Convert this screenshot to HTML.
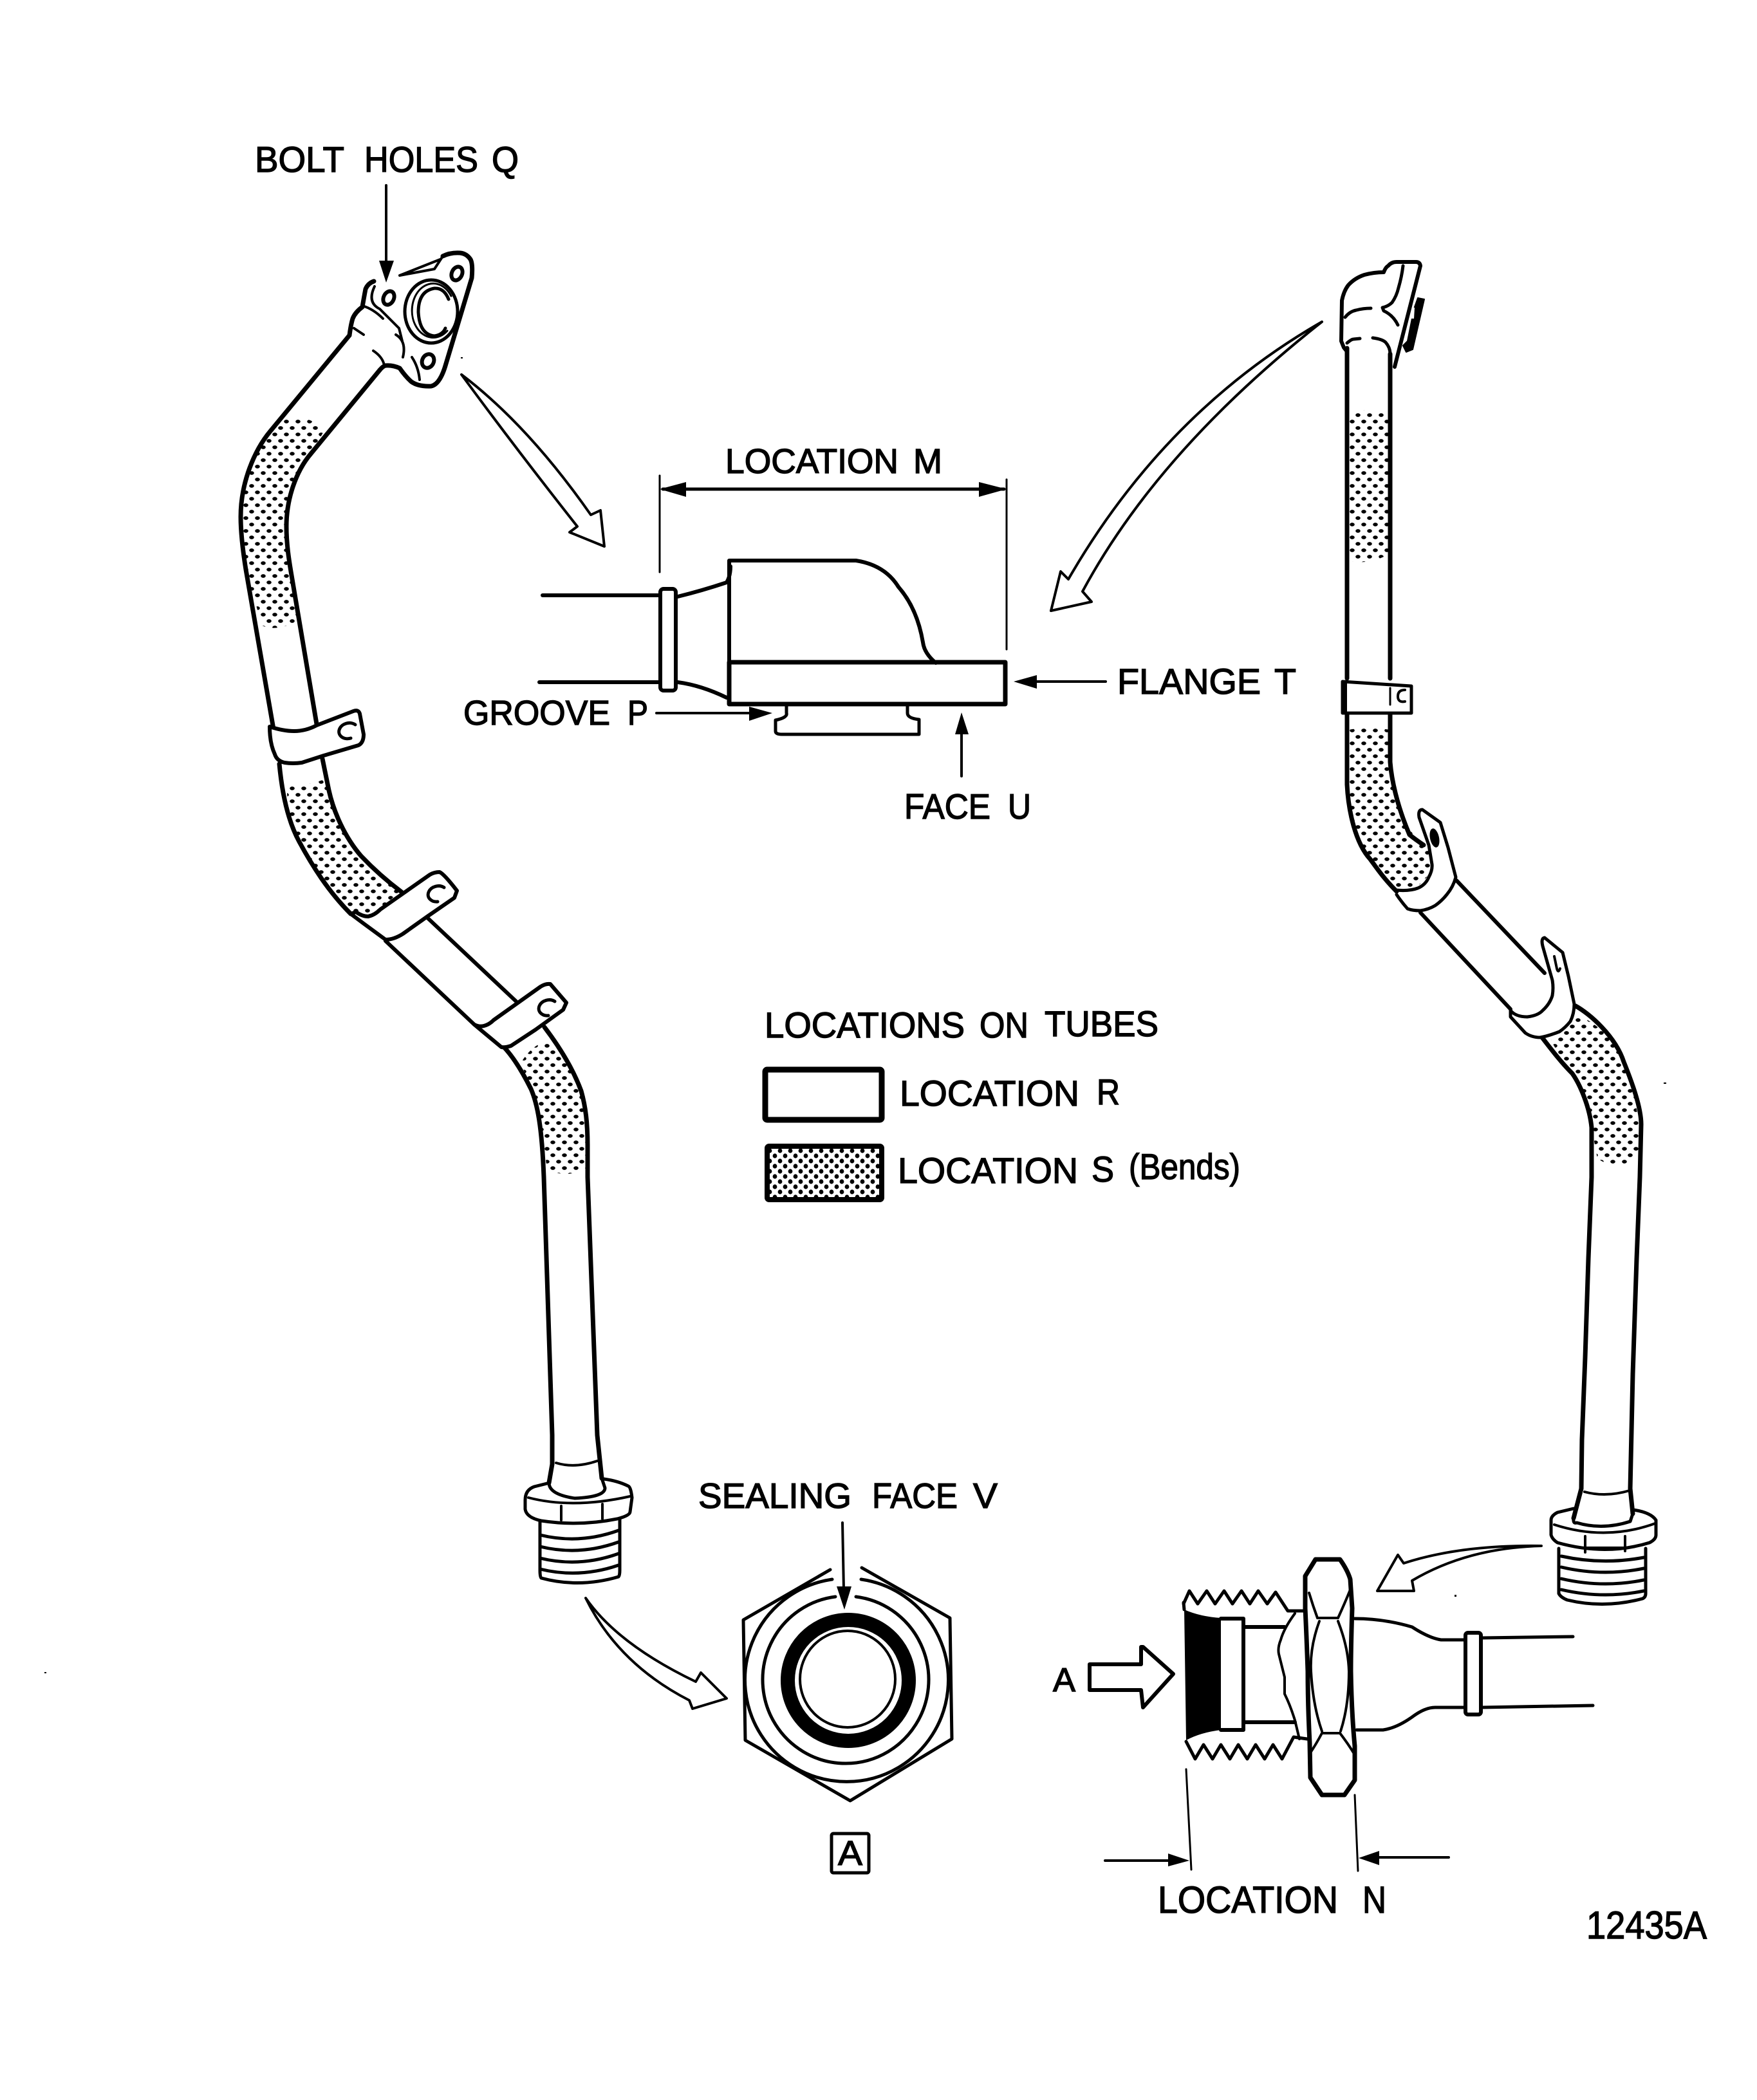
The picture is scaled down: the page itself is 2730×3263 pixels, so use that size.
<!DOCTYPE html>
<html><head><meta charset="utf-8"><title>Tube locations</title>
<style>html,body{margin:0;padding:0;background:#fff}svg{display:block}
text{font-family:"Liberation Sans",sans-serif;fill:#000;stroke:#000;stroke-width:1.4}</style></head>
<body>
<svg xmlns="http://www.w3.org/2000/svg" width="2730" height="3263" viewBox="0 0 2730 3263">
<defs>
<pattern id="d" width="18" height="20" patternUnits="userSpaceOnUse"><ellipse cx="4" cy="5" rx="3.8" ry="2.9"/><ellipse cx="13" cy="15" rx="3.8" ry="2.9"/></pattern>
<pattern id="d2" width="16" height="16" patternUnits="userSpaceOnUse"><ellipse cx="4" cy="4" rx="3.4" ry="3.6"/><ellipse cx="12" cy="12" rx="3.4" ry="3.6"/></pattern>
</defs>
<rect width="2730" height="3263" fill="#fff"/>

<!-- stipple areas -->
<g fill="url(#d)" stroke="none">
<path d="M425 663Q461 632 505 667L483 705C460 732 445 775 445 818C445 845 449 870 462 965Q430 982 407 972L382 885C378 860 374 830 374 803C374 750 395 700 425 663Z"/>
<path d="M445 1221Q475 1222 501 1212L511 1228C518 1260 535 1300 561 1330C580 1350 600 1368 622 1384L591 1413 572 1424 553 1417 545 1420C510 1385 485 1345 465 1308C452 1280 447 1250 445 1221Z"/>
<path d="M809 1652Q825 1625 848 1618L871 1634C880 1650 895 1675 903 1695C910 1720 913 1745 913 1815Q880 1832 850 1817L845 1780C842 1750 835 1715 825 1692C820 1680 815 1665 809 1652Z"/>
<path d="M2095 645Q2125 630 2158 645L2160 860Q2125 880 2093 870Z"/>
<path d="M2095 1134Q2125 1128 2160 1134C2160 1190 2165 1237 2187 1282C2197 1300 2205 1310 2225 1326L2222 1358 2200 1380 2169 1380 2160 1374 2129 1335C2106 1310 2095 1260 2093 1219Z"/>
<path d="M2410 1617Q2425 1585 2450 1576C2470 1585 2510 1610 2523 1650C2535 1680 2548 1720 2548 1798Q2510 1820 2482 1800L2473 1752C2470 1720 2455 1685 2443 1668C2430 1650 2420 1635 2410 1617Z"/>
</g>

<g fill="none" stroke="#000" stroke-width="7" stroke-linecap="round" stroke-linejoin="round">
<!-- LEFT TUBE -->
<path d="M543 521L420 670C395 700 374 750 374 803C374 830 378 860 382 885L425 1133"/>
<path d="M590 575L483 705C460 732 445 775 445 818C445 845 449 870 452 888L492 1125"/>
<path d="M434 1187C438 1230 447 1275 465 1308C485 1345 510 1385 545 1420"/>
<path d="M501 1179L511 1228C518 1260 535 1300 561 1330C580 1350 600 1368 624 1386"/>
<path stroke-width="6" d="M599 1462L737 1592M664 1426L802 1556"/>
<path d="M783 1627C800 1645 815 1672 825 1692C835 1715 842 1750 845 1829L858 2230 858 2275 853 2304"/>
<path d="M846 1596C868 1625 890 1660 903 1695C910 1720 913 1745 913 1780L913 1829 928 2230 935 2297"/>

<!-- clamps left -->
<g fill="#fff" stroke-width="6">
<path d="M419 1129Q440 1136 457 1136Q475 1136 492 1127L549 1105Q557 1102 559 1109L565 1141Q565 1154 557 1158L503 1174 469 1185Q455 1187 442 1185Q430 1182 427 1172Q419 1155 419 1129Z"/>
<path d="M553 1417Q563 1424 572 1424Q582 1422 591 1413L668 1359Q675 1355 683 1355Q690 1358 710 1384L706 1395 664 1424 626 1451Q612 1460 599 1460L565 1435 545 1420Z"/>
<path d="M737 1592Q745 1596 752 1594Q760 1592 767 1585L840 1533Q848 1528 855 1529L880 1558 875 1569 832 1600 794 1625Q785 1628 779 1627Z"/>
</g>
<path stroke-width="5" d="M552 1126A15 12 -15 1 0 545 1147M690 1379A15 12 -15 1 0 680 1401M862 1556A15 12 -15 1 0 852 1578"/>

<!-- left flange -->
<path d="M543 521Q545 505 548 495Q552 485 563 477Q565 465 568 449Q572 440 581 437"/>
<path d="M590 575Q595 569 599 568Q610 567 621 572Q630 585 639 593Q650 601 670 600Q684 597 693 565L733 432Q735 410 731 403Q725 394 715 393Q700 392 688 398"/>
<path d="M621 428L684 403M621 428L675 418 688 398" stroke-width="4"/>
<path stroke-width="4" d="M563 475Q580 480 595 495M550 510L565 520M582 445Q570 470 590 480Q600 490 620 510L625 530M615 520Q632 530 626 555M580 545Q595 555 597 568M640 555Q650 570 652 590"/>
<ellipse cx="604" cy="463" rx="8" ry="11" transform="rotate(25 604 463)" stroke-width="6"/>
<ellipse cx="710" cy="425" rx="8" ry="11" transform="rotate(25 710 425)" stroke-width="6"/>
<ellipse cx="665" cy="561" rx="9" ry="11" transform="rotate(25 665 561)" stroke-width="6"/>
<ellipse cx="670" cy="484" rx="41" ry="49" stroke-width="5"/>
<path stroke-width="3" d="M701 460A33 42 0 1 0 695 514"/>
<path stroke-width="5" d="M697 465Q690 447 675 448Q650 452 650 485Q652 520 675 522Q688 520 692 510"/>

<!-- left fitting -->
<path stroke-width="4" d="M864 2273Q893 2282 928 2270"/>
<path stroke-width="5" d="M853 2304Q853 2322 893 2328Q940 2326 940 2312L935 2297"/>
<path stroke-width="5" d="M850 2305L830 2310Q816 2315 816 2331V2345Q818 2358 841 2363Q900 2372 959 2360Q979 2355 979 2349L982 2327Q980 2310 976 2309Q960 2301 938 2298"/>
<path stroke-width="4" d="M821 2327Q890 2345 979 2325M872 2340V2362M936 2337V2360"/>
<path stroke-width="5" d="M839 2365V2440Q839 2450 841 2452Q900 2468 961 2450Q963 2448 963 2440V2360"/>
<path stroke-width="5" d="M839 2385Q900 2400 961 2378M839 2403Q900 2418 961 2396M839 2421Q900 2436 961 2414M839 2438Q900 2453 961 2432"/>

<!-- RIGHT TUBE -->
<path d="M2093 541V1054M2160 550V1054"/>
<path d="M2093 1110V1219C2095 1260 2106 1310 2129 1335C2140 1350 2150 1365 2170 1385"/>
<path d="M2160 1110V1184C2162 1210 2170 1250 2190 1297Q2200 1305 2212 1313"/>
<path stroke-width="6" d="M2207 1418L2347 1568M2263 1368L2400 1512"/>
<path d="M2396 1612C2410 1630 2425 1650 2443 1668C2455 1685 2470 1720 2473 1752L2473 1829 2468 1956 2463 2109 2458 2237 2457 2313 2445 2359"/>
<path d="M2448 1563C2470 1575 2510 1610 2523 1650C2535 1680 2550 1720 2550 1747L2548 1829 2543 1956 2537 2135 2533 2313 2537 2352"/>

<!-- right clamps -->
<g fill="#fff" stroke-width="5">
<path d="M2086 1059L2193 1066V1108L2086 1108Z"/>
<path fill="none" d="M2168 1383Q2190 1385 2203 1380Q2215 1375 2220 1363Q2226 1352 2225 1343L2220 1313 2205 1270Q2203 1258 2210 1258L2238 1278 2250 1317 2262 1363Q2258 1378 2248 1390Q2240 1400 2230 1407Q2220 1413 2207 1415Q2195 1415 2187 1412Q2178 1402 2170 1390"/>
<path d="M2347 1570Q2355 1580 2373 1580Q2390 1578 2397 1570Q2408 1560 2412 1547Q2414 1535 2412 1523L2397 1470Q2394 1458 2400 1457L2428 1480 2437 1517 2446 1560Q2446 1575 2440 1587Q2432 1597 2423 1603Q2405 1610 2393 1612Q2380 1612 2370 1605L2347 1580Z"/>
</g>
<rect x="2086" y="1059" width="7" height="49" fill="#000" stroke="none"/>
<path stroke-width="3" d="M2160 1069V1095"/>
<path stroke-width="4" d="M2183 1072Q2172 1072 2172 1082Q2172 1092 2183 1090"/>
<ellipse cx="2229" cy="1302" rx="7" ry="15" transform="rotate(-12 2229 1302)" fill="#000" stroke="none"/>
<path stroke-width="4" d="M2415 1486L2419 1505Q2421 1513 2424 1505"/>

<!-- right elbow -->
<path stroke-width="6" d="M2092 545L2088 540 2084 530 2085 467Q2088 452 2095 443Q2105 432 2120 427Q2135 423 2150 423Q2153 415 2157 413Q2162 407 2170 407H2200Q2206 407 2207 413L2167 570"/>
<path stroke-width="5" d="M2180 413Q2178 430 2173 447Q2170 460 2163 470Q2157 476 2148 478L2150 483Q2165 490 2172 505"/>
<path stroke-width="5" d="M2090 493Q2097 484 2107 482Q2118 479 2130 479M2093 533Q2100 527 2103 527L2113 526M2133 525Q2148 527 2153 532Q2160 540 2160 550"/>
<path fill="#000" stroke-width="2" d="M2203 463L2213 465 2195 543 2185 547 2180 537 2187 530 2197 480Z"/>
<path fill="#fff" stroke="none" d="M2194 478L2198 478 2197 495 2192 495Z"/>

<!-- right fitting -->
<path stroke-width="4" d="M2462 2318Q2495 2327 2532 2316"/>
<path stroke-width="5" d="M2445 2359Q2444 2368 2450 2366Q2490 2378 2533 2364L2537 2352"/>
<path stroke-width="5" d="M2445 2344L2420 2350Q2410 2355 2410 2362V2385Q2412 2392 2420 2397Q2495 2418 2563 2397Q2573 2392 2573 2385V2362Q2565 2350 2538 2346"/>
<path stroke-width="4" d="M2415 2369Q2495 2395 2572 2367M2463 2387V2412M2525 2387V2410M2463 2405H2525"/>
<path stroke-width="5" d="M2422 2406V2476Q2425 2482 2435 2486Q2493 2500 2552 2484Q2557 2482 2557 2476V2406"/>
<path stroke-width="5" d="M2426 2418Q2490 2432 2554 2420M2426 2435Q2490 2450 2554 2437M2426 2453Q2490 2468 2554 2455M2426 2470Q2490 2485 2554 2472"/>

<!-- CENTER DETAIL -->
<path stroke-width="6" d="M843 925H1026M838 1060H1026"/>
<rect x="1026" y="915" width="24" height="158" rx="5" stroke-width="6"/>
<path stroke-width="6" d="M1053 927Q1090 918 1129 905Q1135 895 1135 880M1053 1060Q1090 1065 1129 1084"/>
<path stroke-width="6" d="M1133 871V1090M1133 871H1330Q1375 878 1396 912Q1425 945 1434 998Q1436 1015 1454 1030"/>
<rect x="1133" y="1029" width="429" height="65" stroke-width="7"/>
<path stroke-width="5" d="M1222 1096V1108Q1224 1115 1205 1119V1136Q1205 1141 1215 1141H1428V1118Q1410 1116 1410 1108V1096"/>
<path stroke-width="3" d="M1025 739V889M1564 745V1009"/>
<path stroke-width="5" d="M1030 760H1560"/>

<!-- leaders -->
<path stroke-width="4" d="M600 288V410M1309 2366L1311 2470M1020 1108H1170M1718 1059H1605M1494 1206V1135"/>
<path stroke-width="4" d="M1717 2891H1820M2251 2886H2135"/>
<path stroke-width="3" d="M1843 2749L1851 2905M2105 2789L2110 2907"/>

<!-- hollow arrows -->
<path stroke-width="4" fill="#fff" d="M717 582Q820 660 918 800L933 793 939 849 885 827 897 818Q800 695 717 582Z"/>
<path stroke-width="4" fill="#fff" d="M2054 500Q1810 640 1660 900L1648 888 1633 949 1696 935 1682 919Q1800 700 2054 500Z"/>
<path stroke-width="4" fill="#fff" d="M910 2483Q960 2555 1081 2613L1089 2599 1129 2639 1076 2655 1071 2642Q960 2585 910 2483Z"/>
<path stroke-width="4" fill="#fff" d="M2395 2402Q2270 2400 2181 2429L2172 2416 2140 2472 2197 2472 2194 2456Q2280 2405 2395 2402Z"/>

<!-- HEX -->
<path stroke-width="5" d="M1290 2439L1155 2517 1158 2704 1321 2798 1479 2702 1476 2514 1339 2436"/>
<path stroke-width="5" d="M1293 2454A158 158 0 1 0 1338 2454"/>
<path stroke-width="5" d="M1298 2481A129 130 0 1 0 1330 2481"/>
<circle cx="1318" cy="2611" r="94" stroke-width="22"/>
<ellipse cx="1317" cy="2609" rx="74" ry="75" stroke-width="4"/>
<rect x="1292" y="2849" width="58" height="61" rx="3" stroke-width="5"/>

<!-- nut drawing -->
<path stroke-width="5" d="M1839 2490L1840 2501"/>
<polyline stroke-width="5" points="1839,2492 1848,2472 1861,2492 1875,2472 1888,2492 1902,2472 1915,2492 1929,2472 1942,2492 1955,2472 1969,2492 1982,2474 2001,2503 2025,2503"/>
<polyline stroke-width="5" points="1843,2706 1857,2733 1870,2711 1884,2733 1897,2711 1911,2733 1924,2711 1938,2733 1951,2711 1965,2733 1978,2711 1992,2733 2010,2699 2031,2702"/>
<path fill="#000" stroke="none" d="M1840 2501Q1865 2512 1897 2514V2688Q1865 2692 1843 2704Z"/>
<path stroke-width="6" d="M1897 2515H1932V2688H1897"/>
<path stroke-width="6" d="M1932 2528H1996M1932 2676H2012"/>
<path stroke-width="4" d="M2012 2507Q1995 2530 1990 2548Q1985 2560 1987 2570Q1992 2590 1996 2606V2632Q2005 2650 2012 2673L2019 2702"/>
<path stroke-width="7" fill="#fff" d="M2044 2423H2082Q2094 2440 2098 2454L2101 2499Q2099 2560 2099 2597Q2100 2660 2105 2713V2766L2089 2789H2054L2036 2762 2035 2708Q2032 2650 2032 2597Q2030 2540 2028 2499V2449Z"/>
<path stroke-width="4" d="M2047 2514H2079M2047 2514Q2040 2495 2034 2475M2079 2514Q2090 2490 2098 2470M2054 2693H2082M2054 2693Q2045 2710 2035 2725M2082 2693Q2095 2710 2104 2725M2050 2519Q2035 2560 2037 2597Q2040 2650 2054 2690M2079 2519Q2095 2560 2096 2597Q2096 2650 2083 2690"/>
<path stroke-width="5" d="M2105 2515Q2150 2515 2194 2528Q2220 2545 2239 2548H2277M2108 2688H2149Q2170 2685 2194 2668Q2215 2652 2232 2653H2277"/>
<rect x="2277" y="2537" width="24" height="127" rx="4" stroke-width="6"/>
<path stroke-width="5" d="M2302 2545L2444 2543M2302 2653L2475 2650"/>
<path stroke-width="6" d="M1693 2586H1773V2559L1776 2559 1823 2601 1776 2653 1773 2626H1693Z"/>

<!-- legend -->
<rect x="1189" y="1662" width="181" height="78" rx="3" stroke-width="9"/>
<rect x="1193" y="1782" width="177" height="82" fill="url(#d2)" stroke="none"/>
<rect x="1192" y="1781" width="178" height="83" rx="3" stroke-width="8"/>
</g>

<!-- arrowheads -->
<g fill="#000" stroke="none">
<path d="M600 439L589 405H612Z"/>
<path d="M1312 2501L1300 2465H1323Z"/>
<path d="M1025 760L1066 749V772Z"/>
<path d="M1564 760L1521 749V772Z"/>
<path d="M1200 1108L1164 1098V1120Z"/>
<path d="M1575 1059L1611 1049V1070Z"/>
<path d="M1494 1107L1484 1141H1505Z"/>
<path d="M1848 2891L1815 2880V2900Z"/>
<path d="M2111 2887L2143 2876V2898Z"/>
<rect x="2585" y="1682" width="4" height="2"/>
<rect x="2260" y="2478" width="3" height="3"/>
<rect x="716" y="555" width="3" height="2"/>
<rect x="69" y="2598" width="3" height="2"/>
</g>

<!-- labels -->
<g>
<text x="396" y="267" font-size="56" textLength="139" lengthAdjust="spacingAndGlyphs">BOLT</text>
<text x="566" y="267" font-size="56" textLength="177" lengthAdjust="spacingAndGlyphs">HOLES</text>
<text x="764" y="267" font-size="56" textLength="42" lengthAdjust="spacingAndGlyphs">Q</text>
<text x="1127" y="735" font-size="54" textLength="269" lengthAdjust="spacingAndGlyphs">LOCATION</text>
<text x="1419" y="735" font-size="54" textLength="45" lengthAdjust="spacingAndGlyphs">M</text>
<text x="720" y="1126" font-size="54" textLength="228" lengthAdjust="spacingAndGlyphs">GROOVE</text>
<text x="975" y="1126" font-size="54" textLength="32" lengthAdjust="spacingAndGlyphs">P</text>
<text x="1736" y="1078" font-size="56" textLength="223" lengthAdjust="spacingAndGlyphs">FLANGE</text>
<text x="1980" y="1078" font-size="56" textLength="34" lengthAdjust="spacingAndGlyphs">T</text>
<text x="1405" y="1272" font-size="55" textLength="134" lengthAdjust="spacingAndGlyphs">FACE</text>
<text x="1566" y="1272" font-size="55" textLength="36" lengthAdjust="spacingAndGlyphs">U</text>
<text x="1188" y="1612" font-size="56" textLength="311" lengthAdjust="spacingAndGlyphs">LOCATIONS</text>
<text x="1522" y="1612" font-size="56" textLength="76" lengthAdjust="spacingAndGlyphs">ON</text>
<text x="1623" y="1610" font-size="56" textLength="177" lengthAdjust="spacingAndGlyphs">TUBES</text>
<text x="1398" y="1718" font-size="56" textLength="279" lengthAdjust="spacingAndGlyphs">LOCATION</text>
<text x="1704" y="1716" font-size="56" textLength="36" lengthAdjust="spacingAndGlyphs">R</text>
<text x="1395" y="1838" font-size="56" textLength="280" lengthAdjust="spacingAndGlyphs">LOCATION</text>
<text x="1696" y="1836" font-size="56" textLength="35" lengthAdjust="spacingAndGlyphs">S</text>
<text x="1754" y="1832" font-size="56" textLength="173" lengthAdjust="spacingAndGlyphs">(Bends)</text>
<text x="1085" y="2343" font-size="55" textLength="238" lengthAdjust="spacingAndGlyphs">SEALING</text>
<text x="1355" y="2343" font-size="55" textLength="133" lengthAdjust="spacingAndGlyphs">FACE</text>
<text x="1512" y="2343" font-size="55" textLength="38" lengthAdjust="spacingAndGlyphs">V</text>
<text x="1302" y="2898" font-size="54" textLength="38" lengthAdjust="spacingAndGlyphs">A</text>
<text x="1636" y="2628" font-size="52" textLength="35" lengthAdjust="spacingAndGlyphs">A</text>
<text x="1799" y="2972" font-size="58" textLength="280" lengthAdjust="spacingAndGlyphs">LOCATION</text>
<text x="2117" y="2972" font-size="58" textLength="37" lengthAdjust="spacingAndGlyphs">N</text>
<text x="2465" y="3012" font-size="60" textLength="187" lengthAdjust="spacingAndGlyphs">12435A</text>
</g>
</svg>
</body></html>
